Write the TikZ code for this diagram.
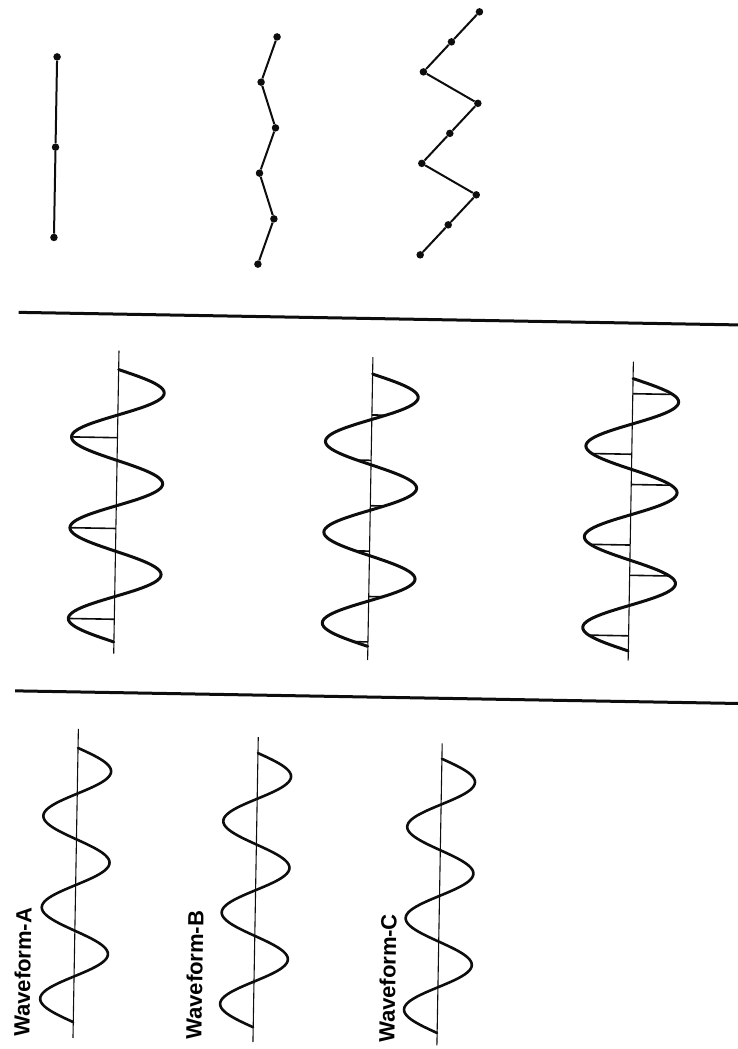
\documentclass[tikz,border=0pt]{standalone}
\usepackage{fontspec}
\setmainfont{Liberation Sans}
\usepackage{xcolor}
\definecolor{ink}{HTML}{0D0D0D}

\tikzset{
  divider/.style={draw=ink,line width=3pt},
  midline/.style={draw=ink,line width=1.1pt},
  wave/.style={draw=ink,line width=3pt,line cap=round,line join=round},
  lowwave/.style={draw=ink,line width=2.6pt,line cap=round,line join=round},
  samplebar/.style={draw=ink,line width=1.6pt},
  sampledot/.style={circle,fill=ink,inner sep=0pt,minimum size=7.5pt},
  joinline/.style={draw=ink,line width=2pt},
  wlabel/.style={rotate=90,inner sep=0pt,
                 font=\fontsize{22}{24}\selectfont\bfseries}
}
% centre x, first zero y, amplitude, half period
\newcommand{\sinewave}[5]{%
  \draw[#5] plot[domain=0:6,samples=145] ({#1+#3*sin(\x*180)},{#2+#4*\x});}

\begin{document}
\begin{tikzpicture}[x=1pt,y=-1pt]
  \useasboundingbox (0,0) rectangle (738,1049);

  \begin{scope}[rotate around={-1:(369,524)},transform shape]
  % dividers
  \draw[divider] (15,318.5) -- (760,318.5);
  \draw[divider] (18,697) -- (760,697);

  % sampled waves
  \draw[midline] (116,355) -- (116,658);
  \draw[midline] (370,357) -- (370,660);
  \draw[midline] (630.5,357) -- (630.5,656);
  \sinewave{116}{374}{46}{45.4}{wave}
  \sinewave{370}{374}{46}{45.4}{wave}
  \sinewave{630.5}{374}{46}{45.4}{wave}
  \foreach \t in {1.5,3.5,5.5}
    \draw[samplebar] (116,{374+45.4*\t}) -- ({116+46*sin(\t*180)},{374+45.4*\t});
  \foreach \t in {0.901,1.901,2.901,3.901,4.901,5.901}
    \draw[samplebar] (370,{374+45.4*\t}) -- ({370+46*sin(\t*180)},{374+45.4*\t});
  \foreach \t in {0.3333,1.6667,2.3333,3.6667,4.3333,5.6667}
    \draw[samplebar] (630.5,{374+45.4*\t}) -- ({630.5+46*sin(\t*180)},{374+45.4*\t});

  % plain waves
  \draw[midline] (82,734) -- (82,1043);
  \draw[midline] (262,739) -- (262,1044);
  \draw[midline] (446,742) -- (446,1044);
  \sinewave{82}{753}{33.5}{45.7}{lowwave}
  \sinewave{262}{755}{33.5}{45.7}{lowwave}
  \sinewave{446}{757.5}{33.5}{45.7}{lowwave}
  \node[wlabel] (labA) at (30.5,978) {Waveform-A};
  \node[wlabel] (labB) at (202.5,978) {Waveform-B};
  \node[wlabel] (labC) at (395.5,978) {Waveform-C};

  % recovered samples
  \foreach \k in {0,1,2}
    \node[sampledot] (a\k) at (49,{62.4+90.3*\k}) {};
  \foreach \k in {0,...,5}
    \node[sampledot] (b\k) at ({261+7.6*cos(\k*180)},{38.6+45.5*\k}) {};
  \foreach \k in {0,...,8}
    \node[sampledot] (c\k) at ({443+27.5*(1-mod(\k,3))},{10+30.5*\k}) {};
  \draw[joinline] (a0) -- (a1) -- (a2);
  \foreach \k [count=\n from 1] in {0,...,4}
    \draw[joinline] (b\k) -- (b\n);
  \foreach \k [count=\n from 1] in {0,...,7}
    \draw[joinline] (c\k) -- (c\n);
  \end{scope}
\end{tikzpicture}
\end{document}
